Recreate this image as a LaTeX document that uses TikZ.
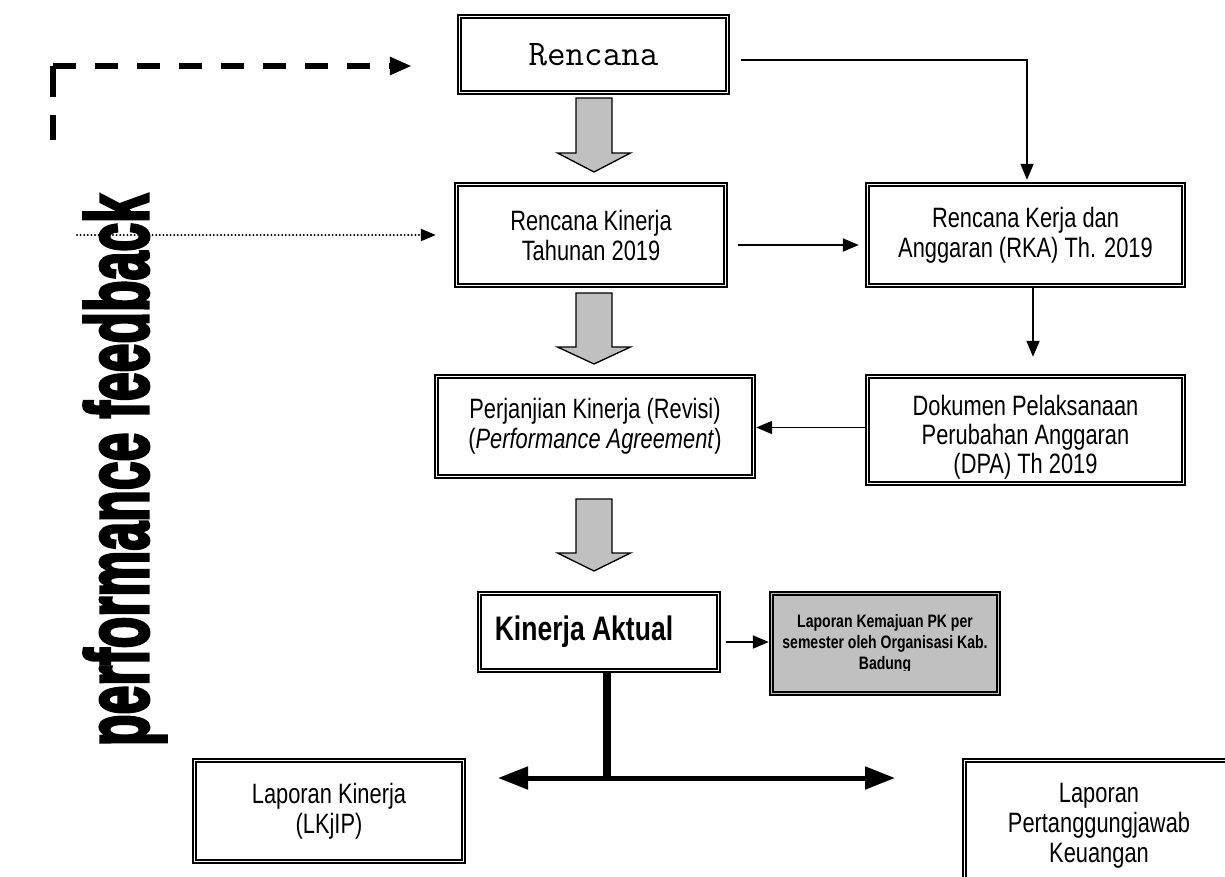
\documentclass[tikz,border=0pt]{standalone}
\usepackage{fontspec}
\setmainfont{Liberation Sans}
\newfontfamily\nar[FakeStretch=0.78]{Liberation Sans}
\newfontfamily\fbfont[FakeBold=4]{Liberation Sans Bold}
\usetikzlibrary{arrows.meta}
\definecolor{gfill}{HTML}{C0C0C0}
\newcommand\blkarr[4]{%
  \draw[blk] (#1-18,#2) -- (#1+18,#2) -- (#1+18,#3) -- (#1+36.5,#3) -- (#1,#4) -- (#1-36.5,#3) -- (#1-18,#3) -- cycle;}
\tikzset{
  box/.style={draw, line width=2.4pt, inner sep=0pt, align=center,
    font=\nar\fontsize{28}{30}\selectfont},
  innerrect/.style={line width=1.8pt},
  arr/.style={line width=1.8pt, -{Triangle[length=16pt,width=13pt]}},
  blk/.style={fill=gfill, draw=black, line width=1.3pt, line join=miter},
  dashline/.style={line width=6pt},
  dotline/.style={line width=2.2pt, line cap=round, dash pattern=on 0pt off 3.6pt},
}
\begin{document}
\begin{tikzpicture}[x=1pt,y=-1pt]
\useasboundingbox (0,0) rectangle (1225,876);
\clip (0,0) rectangle (1225,876);

% boxes
\node[box, minimum width=271pt, minimum height=79pt] (top) at (593.5,54.5)
  {\ttfamily\fontsize{36}{40}\selectfont Rencana};
\node[box, minimum width=272pt, minimum height=104pt] (rkt) at (591,235)
  {Rencana Kinerja\\Tahunan 2019};
\node[box, minimum width=319pt, minimum height=104pt] (rka) at (1025.5,235)
  {Rencana Kerja dan\\Anggaran (RKA) Th. 2019};
\node[box, minimum width=320pt, minimum height=103pt] (pk) at (595,426.5)
  {Perjanjian Kinerja (Revisi)\\(\textit{Performance Agreement})};
\node[box, minimum width=319pt, minimum height=110pt] (dpa) at (1025.5,430) {};
\node[align=center, inner sep=0pt, font=\nar\fontsize{28}{29}\selectfont] (dpat) at (1025.5,437)
  {Dokumen Pelaksanaan\\Perubahan Anggaran\\(DPA) Th 2019};
\node[box, minimum width=242pt, minimum height=80pt] (ka) at (599,632) {};
\node[inner sep=0pt, font=\nar\bfseries\fontsize{34}{36}\selectfont] (kat) at (584,632) {Kinerja Aktual};
\node[box, fill=gfill, minimum width=230pt, minimum height=103pt] (lk) at (885,643.5) {};
\begin{scope}
  \clip (771,594) rectangle (999,670.5);
  \node[align=center, inner sep=0pt, font=\nar\bfseries\fontsize{18}{21}\selectfont] (lkt) at (885,643.5)
    {Laporan Kemajuan PK per\\semester oleh Organisasi Kab.\\Badung};
\end{scope}
\node[box, minimum width=272pt, minimum height=104pt] (lkj) at (329,811)
  {Laporan Kinerja\\(LKjIP)};
\node[box, minimum width=272pt, minimum height=133pt] (lpk) at (1099,825.5)
  {Laporan\\Pertanggungjawab\\Keuangan};

\foreach \n in {top,rkt,rka,pk,dpa,ka,lk,lkj,lpk}
  \draw[innerrect] ([shift={(4.5pt,4.5pt)}]\n.south west) rectangle ([shift={(-4.5pt,-4.5pt)}]\n.north east);

% block arrows
\blkarr{594}{98}{153}{172}
\blkarr{594}{293}{347}{364}
\blkarr{594}{499}{553}{571}

% connectors
\draw[arr] ([xshift=11pt,yshift=-5.5pt]top.east) -| ([xshift=1.5pt,yshift=2pt]rka.north);
\draw[arr] ([xshift=10pt,yshift=-10pt]rkt.east) -- ([xshift=-6pt,yshift=-10pt]rka.west);
\draw[arr] ([xshift=7.5pt]rka.south) -- ([xshift=7.5pt,yshift=17pt]dpa.north);
\draw[arr] ([yshift=2.5pt]dpa.west) -- ([yshift=2.5pt]dpa.west -| pk.east);
\draw[arr] ([xshift=5pt,yshift=-10pt]ka.east) -- ([yshift=-10pt]ka.east -| lk.west);

% thick split
\coordinate (jn) at (607,778);
\coordinate (la) at (498,778);
\coordinate (ra) at (895,778);
\draw[line width=8pt] (ka.south -| jn) -- ([yshift=-2.5pt]jn);
\draw[line width=5pt, {Triangle[length=30pt,width=22pt]}-{Triangle[length=30pt,width=22pt]}] (la) -- (ra);

% feedback
\coordinate (fbA) at (53,140);
\coordinate (fbC) at (53,66);
\coordinate (fbD) at (77,235);
\draw[dashline, dash pattern=on 31pt off 18pt on 25pt off 100pt] (fbC) -- (fbA);
\draw[dashline, dash pattern=on 23pt off 19pt, -{Triangle[length=22pt,width=17pt]}] (fbC) -- ([xshift=-45pt,yshift=-11.5pt]top.west);
\draw[dotline, -{Triangle[length=15pt,width=12pt]}] (fbD) -- ([xshift=-18pt]rkt.west);

\node[rotate=90, inner sep=0pt] (fb) at (125,470) {\resizebox{552pt}{64pt}{\fbfont performance feedback}};
\end{tikzpicture}
\end{document}
